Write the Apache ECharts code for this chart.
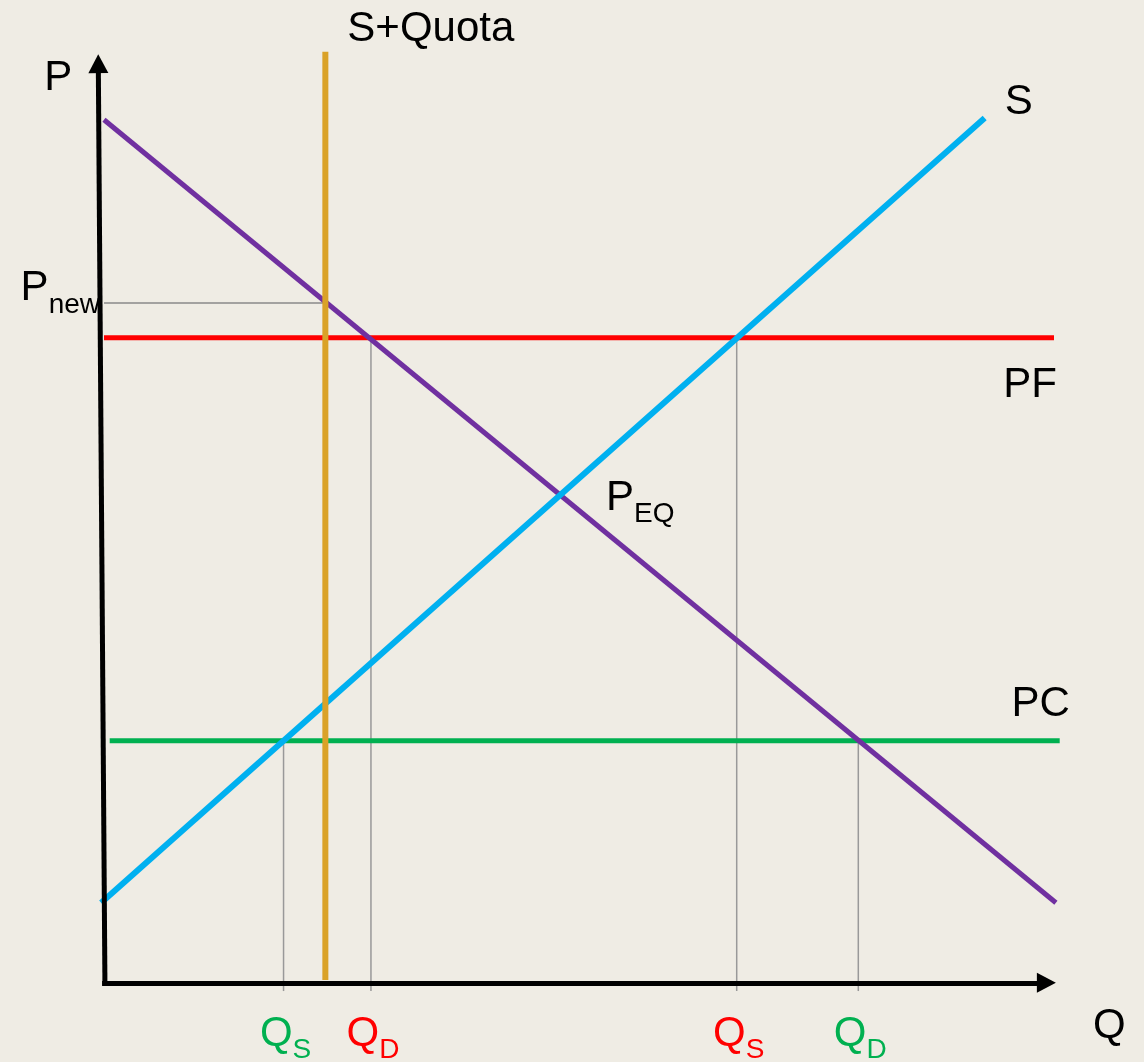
<!DOCTYPE html>
<html>
<head>
<meta charset="utf-8">
<script src="https://cdn.jsdelivr.net/npm/echarts@6/dist/echarts.min.js"></script>
<style>
  html, body { margin: 0; padding: 0; background: #EFECE4; }
  #chart { width: 1144px; height: 1062px; }
</style>
</head>
<body>
<div id="chart"></div>
<script>
// Import quota diagram: domestic demand & supply, world price bands, quota supply
const demand = [[0, 93.5], [100.2, 8.4]];          // D curve endpoints (Q, P)
const supply = [[-0.3, 8.4], [92.7, 93.7]];        // S curve endpoints (Q, P)
const priceFree = 69.8;                            // PF level
const priceCap = 26.0;                             // PC level
const pfRange = [0, 100];                          // Q extent of PF line
const pcRange = [0.6, 100.6];                      // Q extent of PC line
const quotaQ = 23.3;                               // S+Quota vertical
const quotaTop = 100.9;
const pNew = 73.6;                                 // price under the quota
const equilibrium = [48.0, 52.7];                  // P_EQ point
const dropQ = [18.9, 28.1, 66.6, 79.4];            // quantities marked on Q axis
const dropFromP = [priceCap, priceFree, priceFree, priceCap];
const dropMain = ['Q', 'Q', 'Q', 'Q'];
const dropSub = ['S', 'D', 'S', 'D'];
const dropColor = ['#00B050', '#FF0000', '#FF0000', '#00B050'];
const axisFloor = -1.2;                            // drop lines run just past the Q axis
const qAxisEnd = [[-0.2, -0.3], [99.2, -0.3]];     // Q axis, arrow head centred at the end
const pAxisEnd = [[0.1, -0.6], [-0.6, 99.6]];      // P axis, arrow head centred at the end

const FONT = '"Liberation Sans", Arial, sans-serif';
const rich = (c) => ({
  m: { fontSize: 42, color: c, fontFamily: FONT, lineHeight: 46, verticalAlign: 'top' },
  s: { fontSize: 28, color: c, fontFamily: FONT, lineHeight: 28, verticalAlign: 'top', padding: [23, 0, 0, 0] }
});

function seg(name, pts, color, width) {
  return {
    name, type: 'line', data: pts, symbol: 'none', clip: false, silent: true,
    lineStyle: { color, width, cap: 'butt' }, z: 3, animation: false
  };
}

const series = [];

// Gray guide lines
series.push(seg('pnew', [[0, pNew], [quotaQ, pNew]], '#8A8A8A', 1.5));
dropQ.forEach((q, i) => {
  series.push(seg('drop' + i, [[q, dropFromP[i]], [q, axisFloor]], '#999999', 1.5));
});

// Curves
series.push(seg('PF', [[pfRange[0], priceFree], [pfRange[1], priceFree]], '#FF0000', 5));
series.push(seg('PC', [[pcRange[0], priceCap], [pcRange[1], priceCap]], '#00B050', 5));
series.push(seg('D', demand, '#7030A0', 5));
series.push(seg('S', supply, '#00B0F0', 6));
series.push(seg('S+Quota', [[quotaQ, 0], [quotaQ, quotaTop]], '#DAA228', 6));

// Axes with arrow heads
const axisSeries = seg('axes', [], '#000', 5);
axisSeries.z = 5;
axisSeries.markLine = {
  silent: true, animation: false,
  symbol: ['none', 'triangle'], symbolSize: [20, 19],
  label: { show: false },
  lineStyle: { color: '#000', width: 5, type: 'solid' },
  data: [
    [{ coord: qAxisEnd[0] }, { coord: qAxisEnd[1] }],
    [{ coord: pAxisEnd[0] }, { coord: pAxisEnd[1] }]
  ]
};
series.push(axisSeries);

// Text annotations anchored to the marks
const lab = (value, formatter, color, offset, align) => ({
  value,
  label: {
    show: true, position: 'inside', formatter, offset, align: align || 'center',
    verticalAlign: 'middle', color, opacity: 1, textBorderWidth: 0, rich: rich(color)
  }
});
const labels = [
  lab(pAxisEnd[1], '{m|P}', '#000', [-40, 17]),
  lab(qAxisEnd[1], '{m|Q}', '#000', [63, 46]),
  lab([quotaQ, quotaTop], '{m|S+Quota}', '#000', [22, -20], 'left'),
  lab(supply[1], '{m|S}', '#000', [34, -14]),
  lab([pfRange[1], priceFree], '{m|PF}', '#000', [-24, 50]),
  lab([pcRange[1], priceCap], '{m|PC}', '#000', [-19, -34]),
  lab(equilibrium, '{m|P}{s|EQ}', '#000', [46, 5], 'left'),
  lab([0, pNew], '{m|P}{s|new}', '#000', [-4, -12], 'right')
];
dropQ.forEach((q, i) => {
  labels.push(lab([q, axisFloor], '{m|' + dropMain[i] + '}{s|' + dropSub[i] + '}', dropColor[i], [2, 45]));
});
series.push({
  type: 'scatter', data: labels, symbolSize: 1, clip: false, silent: true, animation: false,
  itemStyle: { color: 'rgba(0,0,0,0)', opacity: 1 }, z: 10
});

const chart = echarts.init(document.getElementById('chart'), null, { renderer: 'canvas' });
// Axis extents padded by 2 units so the arrowed axis lines stay inside the plot area
chart.setOption({
  backgroundColor: '#EFECE4',
  animation: false,
  grid: { left: 85, right: 71, top: 41.6, bottom: 63.6 },
  xAxis: {
    type: 'value', min: -2, max: 102,
    axisLine: { show: false }, axisTick: { show: false }, axisLabel: { show: false }, splitLine: { show: false }
  },
  yAxis: {
    type: 'value', min: -2, max: 102,
    axisLine: { show: false }, axisTick: { show: false }, axisLabel: { show: false }, splitLine: { show: false }
  },
  series
});
</script>
</body>
</html>
